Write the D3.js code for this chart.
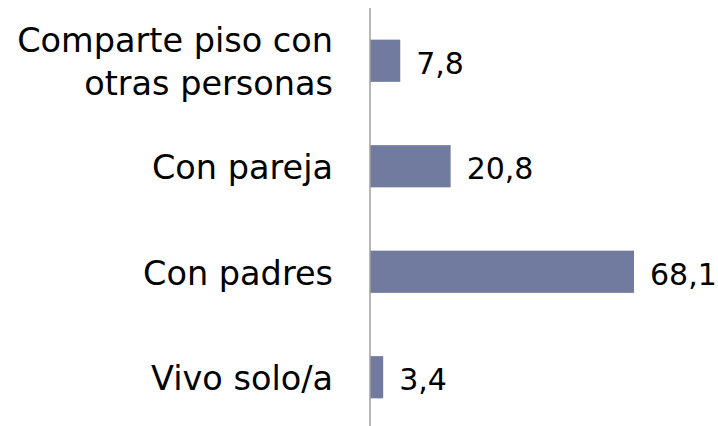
<!DOCTYPE html>
<html>
<head>
<meta charset="utf-8">
<script src="https://cdn.jsdelivr.net/npm/d3@7"></script>
<style>
body{margin:0;background:#fff}
text{font-family:"DejaVu Sans",sans-serif}
</style>
</head>
<body>
<div id="chart"></div>
<script>

const categories = [["Comparte piso con","otras personas"],["Con pareja"],["Con padres"],["Vivo solo/a"]]
const values = [7.8,20.8,68.1,3.4]
const valueLabels = ["7,8","20,8","68,1","3,4"]

const width = 718
const height = 426

const svg = d3.select("#chart")
.append("svg")
.attr("width",width)
.attr("height",height)

const x = d3.scaleLinear()
.domain([0,68.1])
.range([370,634])

const y = d3.scaleBand()
.domain(d3.range(categories.length))
.range([8,430])
.paddingInner(0.6)
.paddingOuter(0.3)

svg.selectAll("rect")
.data(values)
.enter()
.append("rect")
.attr("x",x(0))
.attr("y",(d,i)=>y(i))
.attr("width",d=>x(d)-x(0))
.attr("height",y.bandwidth())
.attr("fill","#717ba0")

svg.append("line")
.attr("x1",x(0))
.attr("x2",x(0))
.attr("y1",8)
.attr("y2",height)
.attr("stroke","#a0a0a0")
.attr("stroke-width",1.5)

svg.selectAll(".val")
.data(values)
.enter()
.append("text")
.attr("class","val")
.attr("x",d=>x(d)+16)
.attr("y",(d,i)=>y(i)+y.bandwidth()/2+13)
.attr("font-size","30px")
.attr("fill","#000")
.text((d,i)=>valueLabels[i])

const lab = svg.selectAll(".lab")
.data(categories)
.enter()
.append("text")
.attr("class","lab")
.attr("text-anchor","end")
.attr("font-size","33.5px")
.attr("fill","#000")

lab.each(function(lines,i){
const c = y(i)+y.bandwidth()/2
const t = d3.select(this)
lines.forEach((l,j)=>{
t.append("tspan")
.attr("x",333)
.attr("y",c+13+(j-(lines.length-1)/2)*43)
.text(l)
})
})

</script>
</body>
</html>
